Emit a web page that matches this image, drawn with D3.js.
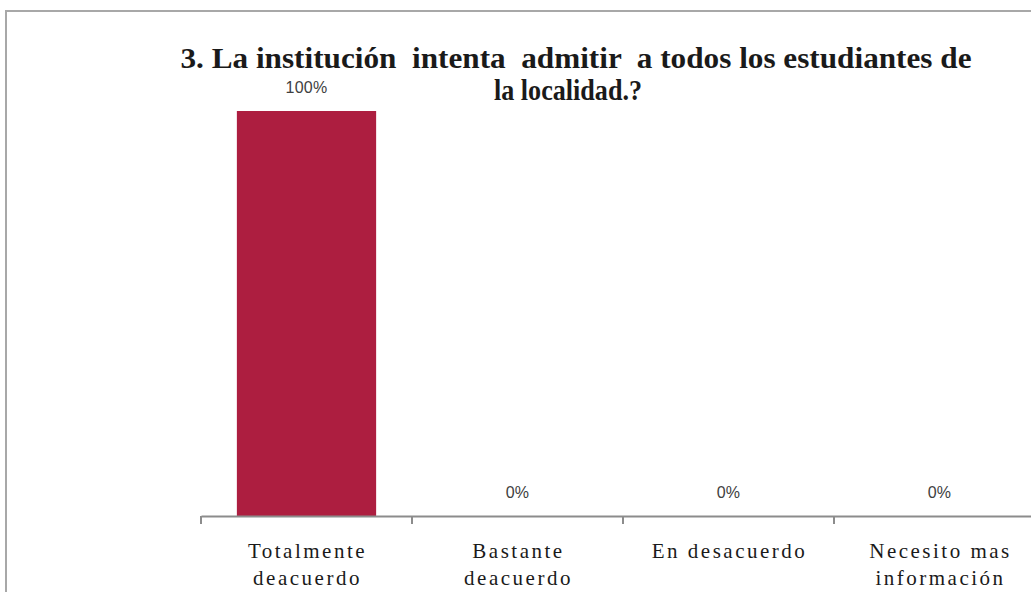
<!DOCTYPE html>
<meta charset="utf-8">
<script src="https://d3js.org/d3.v7.min.js"></script>
<style>
  body { margin: 0; background: #fff; }
</style>
<div id="chart"></div>
<script>
// data
var categories = [["Totalmente", "deacuerdo"], ["Bastante", "deacuerdo"], ["En desacuerdo"], ["Necesito mas", "información"]];
var values = [100, 0, 0, 0];
var titleLines = ["3. La institución  intenta  admitir  a todos los estudiantes de", "la localidad.?"];

var width = 1031, height = 592;
var svg = d3.select("#chart").append("svg")
  .attr("width", width)
  .attr("height", height);

// outer frame (runs off the right and bottom edges)
svg.append("rect")
  .attr("x", 6).attr("y", 11)
  .attr("width", width + 20).attr("height", height + 20)
  .attr("fill", "none")
  .attr("stroke", "#a8a8a8")
  .attr("stroke-width", 2);

var x = d3.scaleBand()
  .domain(d3.range(categories.length))
  .range([201, 201 + 211 * categories.length])
  .paddingInner(0.34)
  .paddingOuter(0.17);

var y = d3.scaleLinear()
  .domain([0, 100])
  .range([516, 111]);

// bars
svg.selectAll(".bar")
  .data(values)
  .enter().append("rect")
  .attr("class", "bar")
  .attr("x", function(d, i) { return x(i); })
  .attr("y", function(d) { return y(d); })
  .attr("width", x.bandwidth())
  .attr("height", function(d) { return y(0) - y(d); })
  .attr("fill", "#ad1e40");

// x axis
var xAxis = d3.axisBottom(x)
  .tickSizeInner(0)
  .tickSizeOuter(0)
  .tickFormat("");
var gx = svg.append("g")
  .attr("transform", "translate(0," + y(0) + ")")
  .call(xAxis);
gx.select(".domain").attr("stroke", "#8c8c8c").attr("stroke-width", 2);

// category boundary ticks
var step = x.step();
var bounds = d3.range(categories.length + 1).map(function(i) { return 201 + i * step; });
gx.selectAll(".bound")
  .data(bounds)
  .enter().append("line")
  .attr("x1", function(d) { return d; })
  .attr("x2", function(d) { return d; })
  .attr("y1", 0).attr("y2", 8)
  .attr("stroke", "#8c8c8c")
  .attr("stroke-width", 2);

// category labels
var labels = svg.selectAll(".cat")
  .data(categories)
  .enter().append("text")
  .attr("class", "cat")
  .attr("text-anchor", "middle")
  .attr("font-family", "Liberation Serif, Times New Roman, serif")
  .attr("font-size", 21)
  .attr("letter-spacing", 2.5)
  .attr("fill", "#1a1a1a");
labels.selectAll("tspan")
  .data(function(d, i) { return d.map(function(t) { return { t: t, i: i }; }); })
  .enter().append("tspan")
  .attr("x", function(d) { return x(d.i) + x.bandwidth() / 2 + 1; })
  .attr("y", function(d, j) { return 558 + j * 27; })
  .text(function(d) { return d.t; });

// value labels
svg.selectAll(".val")
  .data(values)
  .enter().append("text")
  .attr("class", "val")
  .attr("x", function(d, i) { return x(i) + x.bandwidth() / 2; })
  .attr("y", function(d) { return y(d) - 18; })
  .attr("text-anchor", "middle")
  .attr("font-family", "Liberation Sans, Arial, sans-serif")
  .attr("font-size", 16)
  .attr("letter-spacing", 0.3)
  .attr("fill", "#404040")
  .text(function(d) { return d + "%"; });

// title
var titleWidths = [791, 148];
svg.selectAll(".title")
  .data(titleLines)
  .enter().append("text")
  .attr("class", "title")
  .attr("x", function(d, i) { return i === 0 ? 576 : 568; })
  .attr("y", function(d, i) { return 68 + i * 32; })
  .attr("text-anchor", "middle")
  .attr("font-family", "Liberation Serif, Times New Roman, serif")
  .attr("font-weight", "bold")
  .attr("font-size", 30)
  .attr("textLength", function(d, i) { return titleWidths[i]; })
  .attr("lengthAdjust", "spacingAndGlyphs")
  .attr("fill", "#1a1a1a")
  .style("white-space", "pre")
  .text(function(d) { return d; });
</script>
